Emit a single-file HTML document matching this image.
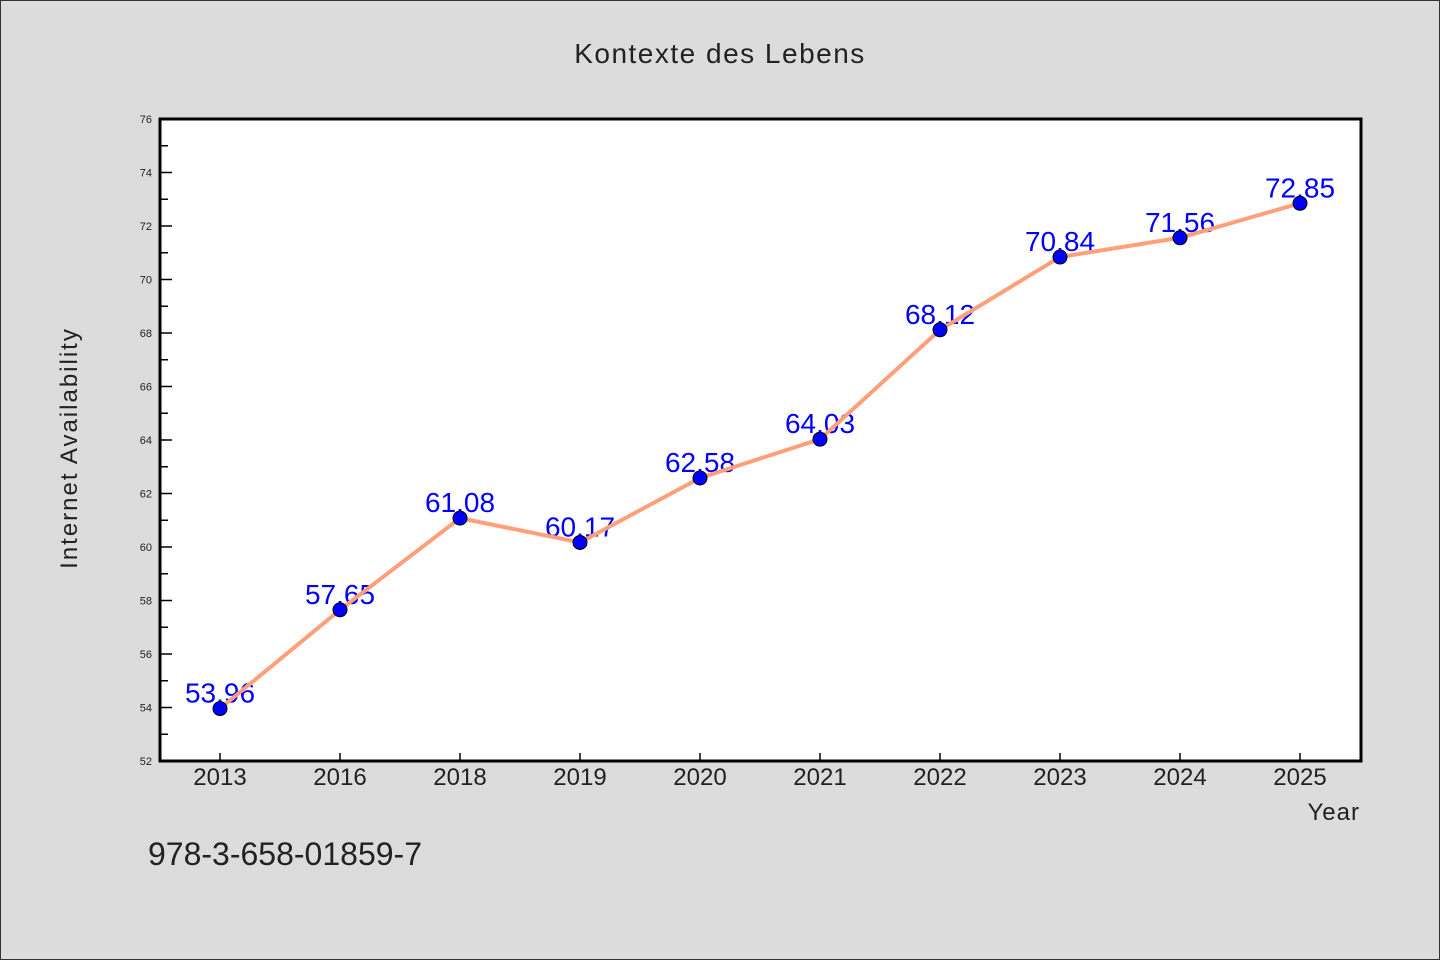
<!DOCTYPE html>
<html><head><meta charset="utf-8"><style>
html,body{margin:0;padding:0;background:#dcdcdc;}
svg{display:block;font-family:"WenQuanYi Zen Hei","Liberation Sans",sans-serif;}
</style></head><body>
<svg id="chart" width="1440" height="960" xmlns="http://www.w3.org/2000/svg">
<rect x="0.5" y="0.5" width="1439" height="959" fill="#dcdcdc" stroke="#333"/>
<text x="720" y="63" text-anchor="middle" font-size="28" fill="#222" letter-spacing="1.5">Kontexte des Lebens</text>
<rect x="160" y="119" width="1201" height="642" fill="#fff"/>
<g id="yaxis"></g>
<g id="xaxis"></g>
<g id="labels"></g>
<g id="series"></g>
<rect x="160" y="119" width="1201" height="642" fill="none" stroke="#000" stroke-width="3"/>
<text x="77" y="448" text-anchor="middle" font-size="24" fill="#222" letter-spacing="2" transform="rotate(-90 77 448)">Internet Availability</text>
<text x="1360" y="820" text-anchor="end" font-size="24" fill="#222" letter-spacing="1">Year</text>
<text x="148" y="865" font-size="32" fill="#222">978-3-658-01859-7</text>
</svg>
<script>
const categories=["2013","2016","2018","2019","2020","2021","2022","2023","2024","2025"];
const values=[53.96,57.65,61.08,60.17,62.58,64.03,68.12,70.84,71.56,72.85];
const valueLabels=["53.96","57.65","61.08","60.17","62.58","64.03","68.12","70.84","71.56","72.85"];
const yTicks=[52,54,56,58,60,62,64,66,68,70,72,74,76];
const NS="http://www.w3.org/2000/svg";
const X0=160,X1=1361,Y0=761,Y1=119,YMIN=52,YMAX=76;
function xs(i){return 220+i*(1300-220)/(categories.length-1);}
function ys(v){return Y0-(v-YMIN)/(YMAX-YMIN)*(Y0-Y1);}
function mk(tag,attrs,parent){const e=document.createElementNS(NS,tag);for(const k in attrs)e.setAttribute(k,attrs[k]);parent.appendChild(e);return e;}
const ya=document.getElementById('yaxis'),xa=document.getElementById('xaxis'),lg=document.getElementById('labels'),sg=document.getElementById('series');
yTicks.forEach((t,i)=>{
  const y=ys(t);
  const l=mk('line',{x1:X0,x2:X0+12,y1:y,y2:y,stroke:'#000','stroke-width':1.5},ya);
  
  
  const tx=mk('text',{x:X0-8,y:y+4,'text-anchor':'end','font-size':11,fill:'#222'},ya);
  tx.textContent=t;
  
  
  if(i<yTicks.length-1){
    const ym=ys(t+1);
    const m=mk('line',{x1:X0,x2:X0+8,y1:ym,y2:ym,stroke:'#000','stroke-width':1.5},ya);
    
    
  }
});
categories.forEach((c,i)=>{
  const x=xs(i);
  const l=mk('line',{x1:x,x2:x,y1:Y0,y2:Y0-8,stroke:'#000','stroke-width':1.5},xa);
  
  
  const tx=mk('text',{x:x,y:785,'text-anchor':'middle','font-size':24,fill:'#222'},xa);
  tx.textContent=c;
  
  
});
values.forEach((v,i)=>{
  const tx=mk('text',{x:xs(i),y:ys(v)-6,'text-anchor':'middle','font-size':28,fill:'#0000ff'},lg);
  tx.textContent=valueLabels[i];
  
  
});
const pl=mk('polyline',{points:values.map((v,i)=>xs(i)+','+ys(v)).join(' '),fill:'none',stroke:'#ffa07a','stroke-width':4,'stroke-linejoin':'round'},sg);


values.forEach((v,i)=>{
  const c=mk('circle',{cx:xs(i),cy:ys(v),r:7,fill:'#0000ff',stroke:'#000','stroke-width':1},sg);
  
  
});
</script>
</body></html>
